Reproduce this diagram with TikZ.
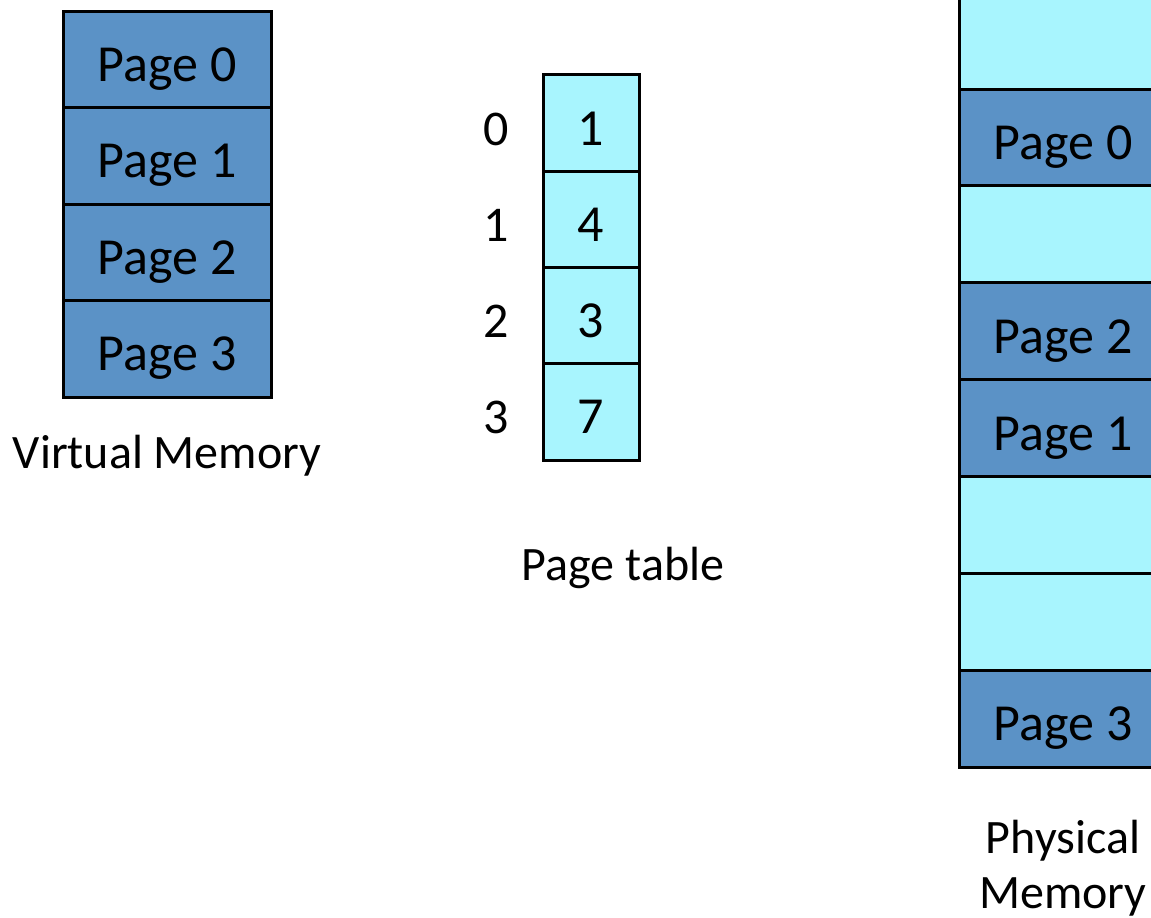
\documentclass[tikz,border=0pt]{standalone}
\usepackage{fontspec}
\setmainfont{Carlito}
\definecolor{pageblue}{HTML}{5B92C6}
\definecolor{freecyan}{HTML}{A8F5FE}
\begin{document}
\begin{tikzpicture}[x=1pt,y=-1pt,
  cell/.style={draw=black,line width=3pt,rectangle,inner sep=0pt,outer sep=0pt,
    font=\fontsize{52}{55}\selectfont,text height=44pt,text depth=0pt},
  vpage/.style={cell,fill=pageblue,minimum width=208pt,minimum height=96.5pt},
  ppage/.style={cell,fill=pageblue,minimum width=208pt,minimum height=96.9pt},
  pfree/.style={cell,fill=freecyan,minimum width=208pt,minimum height=96.9pt},
  ptcell/.style={cell,fill=freecyan,minimum width=96pt,minimum height=96.25pt},
  idx/.style={inner sep=0pt,font=\fontsize{50}{55}\selectfont,anchor=base},
  lbl/.style={inner sep=0pt,font=\fontsize{48}{55}\selectfont,anchor=base}]
\useasboundingbox (0,0) rectangle (1151,918);
% Virtual memory
\node[vpage] (v0) at (167,59.25) {Page 0};
\node[vpage] (v1) at (167,155.75) {Page 1};
\node[vpage] (v2) at (167,252.25) {Page 2};
\node[vpage] (v3) at (167,348.75) {Page 3};
\node[lbl] (vlabel) at (167,468) {Virtual Memory};
% Page table
\node[ptcell] (t0) at (591,123.1) {1};
\node[ptcell] (t1) at (591,219.4) {4};
\node[ptcell] (t2) at (591,315.6) {3};
\node[ptcell] (t3) at (591,411.9) {7};
\node[idx] (i0) at (496,145) {0};
\node[idx] (i1) at (496,241) {1};
\node[idx] (i2) at (496,337) {2};
\node[idx] (i3) at (496,433) {3};
\node[lbl] (tlabel) at (623,580) {Page table};
% Physical memory
\node[pfree] (p0) at (1063,40.55) {};
\node[ppage] (p1) at (1063,137.45) {Page 0};
\node[pfree] (p2) at (1063,234.35) {};
\node[ppage] (p3) at (1063,331.25) {Page 2};
\node[ppage] (p4) at (1063,428.15) {Page 1};
\node[pfree] (p5) at (1063,525.05) {};
\node[pfree] (p6) at (1063,621.95) {};
\node[ppage] (p7) at (1063,718.85) {Page 3};
\node[lbl] (plabelA) at (1063,853) {Physical};
\node[lbl] (plabelB) at (1063,908) {Memory};
\end{tikzpicture}
\end{document}
